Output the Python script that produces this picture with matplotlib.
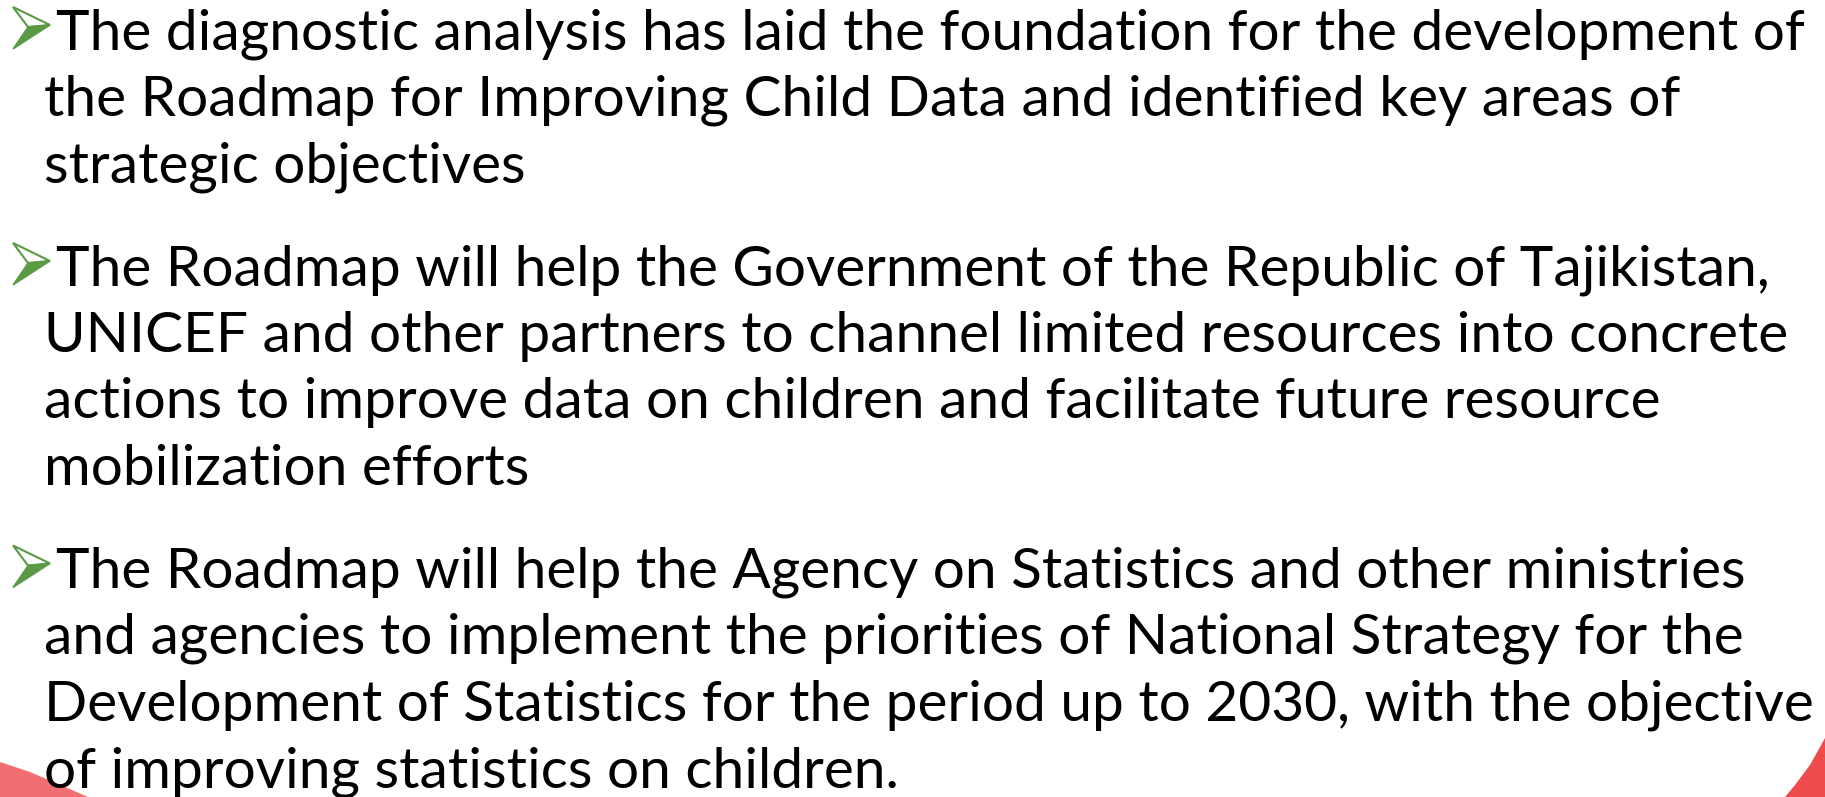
import matplotlib.pyplot as plt
from matplotlib.patches import Polygon

W, H = 1825, 797

paragraphs = [
    ["The diagnostic analysis has laid the foundation for the development of",
     "the Roadmap for Improving Child Data and identified key areas of",
     "strategic objectives"],
    ["The Roadmap will help the Government of the Republic of Tajikistan,",
     "UNICEF and other partners to channel limited resources into concrete",
     "actions to improve data on children and facilitate future resource",
     "mobilization efforts"],
    ["The Roadmap will help the Agency on Statistics and other ministries",
     "and agencies to implement the priorities of National Strategy for the",
     "Development of Statistics for the period up to 2030, with the objective",
     "of improving statistics on children."],
]
first_baselines = [49, 285, 587.5]

line_step = 66.5
green = '#5A9A45'
red = '#EE4B4E'

fig = plt.figure(figsize=(W / 100, H / 100), dpi=100)
ax = fig.add_axes([0, 0, 1, 1])
ax.set_xlim(0, W)
ax.set_ylim(H, 0)
ax.axis('off')

fontsize = 40.9
for lines, y0 in zip(paragraphs, first_baselines):
    # green arrow bullet
    bx, by = 10, y0 - 24
    top = Polygon([(bx + 3, by - 18), (bx + 40, by), (bx + 18, by + 2)],
                  closed=True, facecolor='white', edgecolor=green, lw=1.5)
    bot = Polygon([(bx + 18, by + 2), (bx + 40, by), (bx + 3, by + 24)],
                  closed=True, facecolor=green, edgecolor=green, lw=1)
    ax.add_patch(top)
    ax.add_patch(bot)
    for i, line in enumerate(lines):
        x = 56 if i == 0 else 44
        ax.text(x, y0 + i * line_step, line, fontsize=fontsize,
                family='Lato', va='baseline', ha='left', color='black')

# red decorations at the bottom corners
ax.add_patch(Polygon([(0, 762), (30, 772), (65, 787), (88, 797), (0, 797)],
                     closed=True, facecolor=red, edgecolor='none', alpha=0.8))
ax.add_patch(Polygon([(1825, 738), (1810, 765), (1795, 785), (1785, 797), (1825, 797)],
                     closed=True, facecolor=red, edgecolor='none'))

fig.savefig('out.png', dpi=100)
